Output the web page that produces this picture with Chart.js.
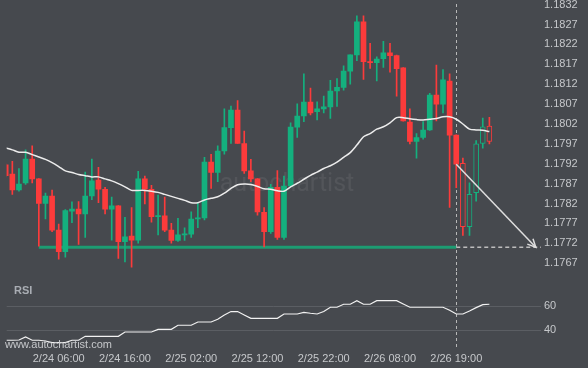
<!DOCTYPE html>
<html>
<head>
<meta charset="utf-8">
<title>EUR/USD</title>
<script src="https://cdn.jsdelivr.net/npm/chart.js@4.4.1/dist/chart.umd.min.js"></script>
<style>
  html, body { margin: 0; padding: 0; background: #46494e; }
  #box { position: relative; width: 588px; height: 368px; overflow: hidden; }
  #grafico, #graficoRsi { position: absolute; left: 0; }
  #grafico { top: 0; }
  #graficoRsi { top: 272px; }
</style>
</head>
<body>
<div id="box">
  <canvas id="grafico" width="588" height="272"></canvas>
  <canvas id="graficoRsi" width="588" height="96"></canvas>
</div>
<script>
// hourly candles, index 1..74
var opens = [1.17917, 1.17894, 1.17854, 1.17872, 1.17932, 1.17882, 1.17820, 1.17839, 1.17753, 1.17699,
  1.17801, 1.17806, 1.17794, 1.17839, 1.17879, 1.17856, 1.17806, 1.17814, 1.17724, 1.17738,
  1.17728, 1.17882, 1.17856, 1.17787, 1.17789, 1.17753, 1.17727, 1.17741, 1.17743, 1.17781,
  1.17784, 1.17924, 1.17898, 1.17952, 1.18011, 1.18055, 1.17971, 1.17902, 1.17882, 1.17798,
  1.17749, 1.17861, 1.17735, 1.17864, 1.18012, 1.18040, 1.18075, 1.18051, 1.18058, 1.18063,
  1.18103, 1.18112, 1.18153, 1.18194, 1.18277, 1.18177, 1.18174, 1.18184, 1.18199, 1.18192,
  1.18161, 1.18025, 1.17976, 1.17986, 1.18005, 1.18093, 1.18070, 1.18128, 1.17992, 1.17921,
  1.17762, 1.17847, 1.17971, 1.18015];
var highs = [1.17920, 1.17926, 1.17908, 1.17955, 1.17965, 1.17883, 1.17846, 1.17854, 1.17768, 1.17805,
  1.17824, 1.17825, 1.17899, 1.17932, 1.17911, 1.17861, 1.17836, 1.17815, 1.17785, 1.17810,
  1.17901, 1.17889, 1.17866, 1.17841, 1.17836, 1.17770, 1.17783, 1.17759, 1.17799, 1.17822,
  1.17936, 1.17944, 1.17965, 1.18058, 1.18065, 1.18079, 1.18002, 1.17931, 1.17883, 1.17810,
  1.17868, 1.17903, 1.17889, 1.18023, 1.18071, 1.18146, 1.18110, 1.18076, 1.18090, 1.18130,
  1.18134, 1.18166, 1.18194, 1.18292, 1.18292, 1.18223, 1.18189, 1.18228, 1.18223, 1.18193,
  1.18162, 1.18058, 1.17996, 1.18026, 1.18097, 1.18168, 1.18157, 1.18146, 1.17993, 1.17934,
  1.17872, 1.17978, 1.18035, 1.18037];
var lows = [1.17887, 1.17843, 1.17851, 1.17868, 1.17872, 1.17713, 1.17781, 1.17749, 1.17680, 1.17685,
  1.17772, 1.17717, 1.17735, 1.17830, 1.17822, 1.17794, 1.17728, 1.17682, 1.17673, 1.17660,
  1.17720, 1.17819, 1.17773, 1.17741, 1.17749, 1.17720, 1.17725, 1.17727, 1.17735, 1.17759,
  1.17779, 1.17858, 1.17875, 1.17944, 1.17971, 1.17971, 1.17896, 1.17875, 1.17791, 1.17711,
  1.17745, 1.17730, 1.17730, 1.17862, 1.17986, 1.18026, 1.18043, 1.18030, 1.18048, 1.18034,
  1.18064, 1.18105, 1.18120, 1.18179, 1.18132, 1.18160, 1.18128, 1.18162, 1.18150, 1.18090,
  1.18027, 1.17970, 1.17934, 1.17982, 1.18004, 1.18028, 1.18048, 1.17810, 1.17860, 1.17740,
  1.17740, 1.17826, 1.17959, 1.17970];
var closes = [1.17890, 1.17854, 1.17869, 1.17932, 1.17882, 1.17820, 1.17839, 1.17753, 1.17699, 1.17802,
  1.17806, 1.17794, 1.17839, 1.17877, 1.17856, 1.17806, 1.17814, 1.17724, 1.17736, 1.17728,
  1.17882, 1.17856, 1.17787, 1.17789, 1.17753, 1.17727, 1.17741, 1.17743, 1.17781, 1.17784,
  1.17924, 1.17898, 1.17952, 1.18011, 1.18055, 1.17971, 1.17902, 1.17882, 1.17799, 1.17749,
  1.17861, 1.17735, 1.17864, 1.18012, 1.18040, 1.18075, 1.18048, 1.18058, 1.18063, 1.18103,
  1.18112, 1.18153, 1.18194, 1.18277, 1.18177, 1.18174, 1.18183, 1.18199, 1.18192, 1.18159,
  1.18028, 1.17976, 1.17986, 1.18005, 1.18093, 1.18070, 1.18131, 1.17992, 1.17919, 1.17762,
  1.17843, 1.17970, 1.18013, 1.17976];

// moving average (white line)
var ma = [1.17960, 1.17955, 1.17949, 1.17949, 1.17943, 1.17937, 1.17931, 1.17923, 1.17913, 1.17902,
  1.17898, 1.17893, 1.17890, 1.17887, 1.17887, 1.17882, 1.17877, 1.17870, 1.17862, 1.17853,
  1.17853, 1.17853, 1.17851, 1.17848, 1.17843, 1.17838, 1.17833, 1.17828, 1.17822, 1.17822,
  1.17829, 1.17833, 1.17837, 1.17846, 1.17858, 1.17867, 1.17869, 1.17868, 1.17863, 1.17857,
  1.17856, 1.17852, 1.17851, 1.17862, 1.17871, 1.17881, 1.17891, 1.17899, 1.17908, 1.17915,
  1.17924, 1.17936, 1.17948, 1.17967, 1.17988, 1.17996, 1.18007, 1.18013, 1.18023, 1.18036,
  1.18036, 1.18033, 1.18031, 1.18030, 1.18032, 1.18034, 1.18038, 1.18038, 1.18032, 1.18020,
  1.18007, 1.18005, 1.18004, 1.18001];

var rsi = [31.7, 31.7, 31.9, 34.4, 31.7, 31.7, 31.1, 29.7, 29.7, 29.7,
  31.7, 31.7, 35.0, 35.0, 35.0, 35.0, 35.0, 35.0, 38.6, 38.6,
  38.6, 38.6, 38.6, 40.8, 40.8, 40.8, 44.2, 44.2, 44.2, 46.9,
  46.9, 46.9, 49.2, 52.8, 55.6, 55.6, 52.8, 50.0, 50.0, 50.0,
  50.0, 50.0, 53.6, 53.6, 53.6, 55.0, 54.2, 53.6, 55.6, 59.2,
  59.2, 61.7, 61.7, 64.7, 61.7, 61.7, 64.7, 64.7, 64.7, 64.7,
  61.9, 59.2, 59.2, 59.2, 59.2, 59.2, 59.2, 56.7, 53.6, 53.6,
  56.1, 58.9, 61.4, 61.7];

var supportLevel = 1.17710;
var supportFrom = 6;
var signalIndex = 69;     // dashed vertical line / start of arrow
var targetIndex = 81;     // arrow tip
var projectionEnd = 82;
var hollowFrom = 70;      // candles after the signal are hollow

var priceTicks = [1.1767, 1.1772, 1.1777, 1.1782, 1.1787, 1.1792, 1.1797, 1.1802, 1.1807, 1.1812, 1.1817, 1.1822, 1.1827, 1.1832];
var rsiTicks = [40, 60];
var timeTickIndex = [9, 19, 29, 39, 49, 59, 69];
var timeTickLabels = ['2/24 06:00', '2/24 16:00', '2/25 02:00', '2/25 12:00', '2/25 22:00', '2/26 08:00', '2/26 19:00'];

var BG = '#46494e';
var UP = '#14b07e';
var DOWN = '#fc3b3b';
var TEXT = '#c6c8cb';

Chart.defaults.font.family = '"Liberation Sans", Arial, sans-serif';
Chart.defaults.font.size = 11;

var X_MIN = 1.151, X_MAX = 81.79;

function fixedY(width) {
    return function (s) {
        s.width = width;
        s.paddingTop = 0;
        s.paddingBottom = 0;
    };
}

var overlayPrice = {
    id: 'overlayPrice',
    beforeDatasetsDraw: function (chart) {
        var c = chart.ctx, a = chart.chartArea, xs = chart.scales.x;
        c.save();
        // watermark
        c.fillStyle = 'rgba(255,255,255,0.07)';
        c.font = '25px Roboto, "Liberation Sans", sans-serif';
        c.textAlign = 'center';
        c.textBaseline = 'middle';
        c.fillText('autochartist', 287, 185);
        // signal line
        var px = Math.round(xs.getPixelForValue(signalIndex)) + 0.5;
        c.strokeStyle = '#b8b8b8';
        c.lineWidth = 1;
        c.setLineDash([3, 3]);
        c.beginPath();
        c.moveTo(px, a.top + 4);
        c.lineTo(px, a.bottom);
        c.stroke();
        c.restore();
    },
    afterDatasetsDraw: function (chart) {
        var c = chart.ctx, xs = chart.scales.x, ys = chart.scales.y;
        var x0 = xs.getPixelForValue(signalIndex), y0 = ys.getPixelForValue(closes[signalIndex - 1]);
        var x1 = xs.getPixelForValue(targetIndex), y1 = ys.getPixelForValue(supportLevel);
        var ang = Math.atan2(y1 - y0, x1 - x0);
        c.save();
        c.strokeStyle = '#dedede';
        c.lineWidth = 1.5;
        c.beginPath();
        c.moveTo(x1 - 9 * Math.cos(ang - 0.45), y1 - 9 * Math.sin(ang - 0.45));
        c.lineTo(x1, y1);
        c.lineTo(x1 - 9 * Math.cos(ang + 0.45), y1 - 9 * Math.sin(ang + 0.45));
        c.stroke();
        c.restore();
    }
};

var overlayRsi = {
    id: 'overlayRsi',
    beforeDatasetsDraw: function (chart) {
        var c = chart.ctx, a = chart.chartArea, xs = chart.scales.x;
        c.save();
        var px = Math.round(xs.getPixelForValue(signalIndex)) + 0.5;
        c.strokeStyle = '#b8b8b8';
        c.lineWidth = 1;
        c.setLineDash([3, 3]);
        c.beginPath();
        c.moveTo(px, 0);
        c.lineTo(px, a.bottom + 2);
        c.stroke();
        c.setLineDash([]);
        c.fillStyle = '#a9adb3';
        c.font = 'bold 11px "Liberation Sans", Arial, sans-serif';
        c.textBaseline = 'middle';
        c.fillText('RSI', 14, 19);
        c.restore();
    },
    afterDatasetsDraw: function (chart) {
        var c = chart.ctx;
        c.save();
        c.fillStyle = TEXT;
        c.font = '11px "Liberation Sans", Arial, sans-serif';
        c.textBaseline = 'middle';
        c.fillText('www.autochartist.com', 5, 73);
        c.restore();
    }
};

document.addEventListener("DOMContentLoaded", function () {
    var bodies = [], wicks = [], maLine = [], rsiLine = [];
    var fill = [], edge = [], edgeW = [];
    for (var i = 0; i < opens.length; i++) {
        var x = i + 1;
        var col = closes[i] >= opens[i] ? UP : DOWN;
        bodies.push({ x: x, y: [opens[i], closes[i]] });
        wicks.push({ x: x, y: [lows[i], highs[i]] });
        maLine.push({ x: x, y: ma[i] });
        rsiLine.push({ x: x, y: rsi[i] });
        fill.push(x >= hollowFrom ? BG : col);
        edge.push(col);
        edgeW.push(x >= hollowFrom ? 1 : 0);
    }

    var ctx = document.getElementById("grafico").getContext("2d");
    new Chart(ctx, {
        type: "bar",
        data: {
            datasets: [{
                type: "line",
                data: [{ x: signalIndex, y: closes[signalIndex - 1] }, { x: targetIndex, y: supportLevel }],
                borderColor: "#dedede",
                borderWidth: 1.5,
                pointRadius: 0,
                order: 0
            }, {
                type: "line",
                data: maLine,
                borderColor: "#ececec",
                borderWidth: 1.5,
                pointRadius: 0,
                tension: 0.3,
                order: 1
            }, {
                data: bodies,
                backgroundColor: fill,
                borderColor: edge,
                borderWidth: edgeW,
                borderSkipped: false,
                barThickness: 5,
                minBarLength: 1,
                grouped: false,
                order: 2
            }, {
                data: wicks,
                backgroundColor: edge,
                barThickness: 1,
                grouped: false,
                order: 3
            }, {
                type: "line",
                data: [{ x: signalIndex, y: supportLevel }, { x: projectionEnd, y: supportLevel }],
                borderColor: "#bdbdbd",
                borderWidth: 1.5,
                borderDash: [4, 3],
                pointRadius: 0,
                order: 4
            }, {
                type: "line",
                data: [{ x: supportFrom, y: supportLevel }, { x: signalIndex, y: supportLevel }],
                borderColor: "#1d9c72",
                borderWidth: 3,
                pointRadius: 0,
                order: 5
            }]
        },
        options: {
            responsive: false,
            animation: false,
            layout: { padding: { left: 6.7, right: 0, top: 0, bottom: 0 } },
            plugins: { legend: { display: false }, tooltip: { enabled: false } },
            scales: {
                x: {
                    type: "linear",
                    min: X_MIN,
                    max: X_MAX,
                    offset: false,
                    display: false
                },
                y: {
                    position: "right",
                    min: 1.176478,
                    max: 1.183318,
                    grid: { display: false, drawTicks: false },
                    border: { display: false },
                    afterBuildTicks: function (s) {
                        s.ticks = priceTicks.map(function (v) { return { value: v }; });
                    },
                    afterFit: fixedY(47),
                    ticks: {
                        color: TEXT,
                        padding: 3,
                        autoSkip: false,
                        callback: function (v) { return v.toFixed(4); }
                    }
                }
            }
        },
        plugins: [overlayPrice]
    });

    var ctx2 = document.getElementById("graficoRsi").getContext("2d");
    new Chart(ctx2, {
        type: "line",
        data: {
            datasets: [{
                data: rsiLine,
                borderColor: "#f2f2f2",
                borderWidth: 1.2,
                pointRadius: 0,
                tension: 0
            }]
        },
        options: {
            responsive: false,
            animation: false,
            layout: { padding: { left: 6.7, right: 0, top: 0, bottom: 0 } },
            plugins: { legend: { display: false }, tooltip: { enabled: false } },
            scales: {
                x: {
                    type: "linear",
                    min: X_MIN,
                    max: X_MAX,
                    grid: { display: false, drawTicks: false },
                    border: { display: false },
                    afterBuildTicks: function (s) {
                        s.ticks = timeTickIndex.map(function (v) { return { value: v }; });
                    },
                    afterFit: function (s) {
                        s.height = 20;
                        s.paddingLeft = 0;
                        s.paddingRight = 0;
                    },
                    ticks: {
                        color: TEXT,
                        padding: 4,
                        maxRotation: 0,
                        autoSkip: false,
                        callback: function (v) { return timeTickLabels[timeTickIndex.indexOf(v)]; }
                    }
                },
                y: {
                    position: "right",
                    min: 25.25,
                    max: 88.58,
                    grid: { color: "#5b5e63", drawTicks: false },
                    border: { display: false },
                    afterBuildTicks: function (s) {
                        s.ticks = rsiTicks.map(function (v) { return { value: v }; });
                    },
                    afterFit: fixedY(47),
                    ticks: { color: TEXT, padding: 3 }
                }
            }
        },
        plugins: [overlayRsi]
    });
});
</script>
</body>
</html>
